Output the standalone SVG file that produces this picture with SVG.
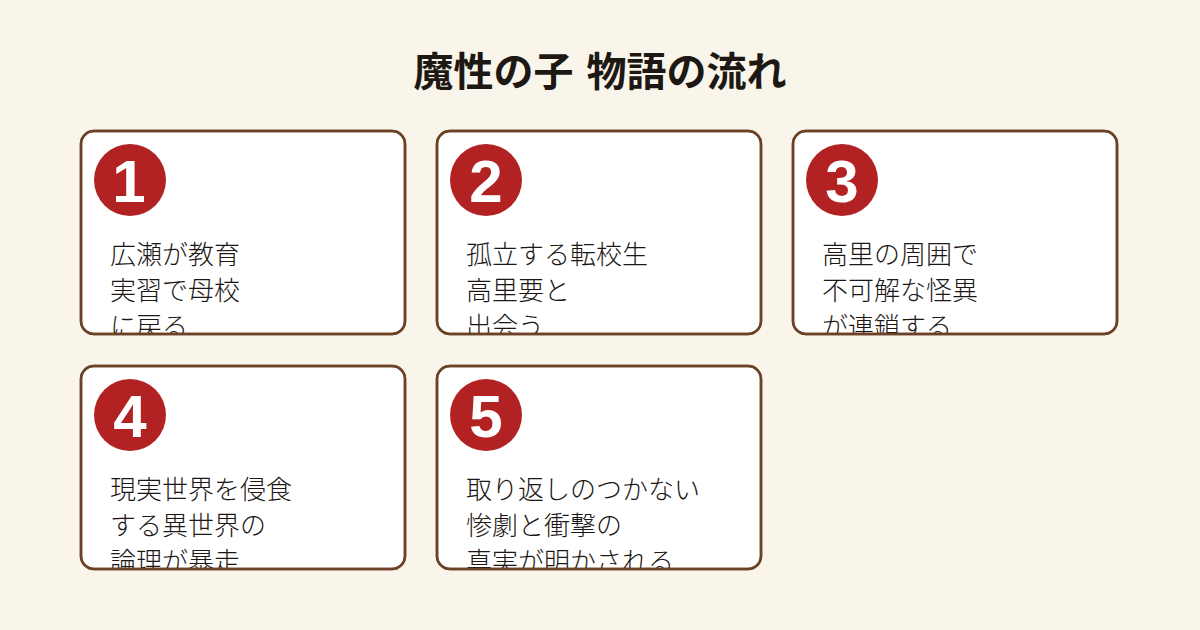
<svg xmlns="http://www.w3.org/2000/svg" width="1200" height="630" viewBox="0 0 1200 630">
<style>
.card{fill:#ffffff;stroke:#6b4226;stroke-width:2.5}
.frame{fill:none;stroke:#6b4226;stroke-width:2.5}
.badge{fill:#b22222}
.num{fill:#ffffff;font-family:"Liberation Sans",Arial,sans-serif;font-weight:700;font-size:60px;text-anchor:middle}
.txt{fill:#1c1714;font-family:"Noto Sans CJK JP","Noto Sans",sans-serif;font-weight:300;font-size:26px}
.title{fill:#1e1814;font-family:"Noto Sans CJK JP","Noto Sans",sans-serif;font-weight:700;font-size:40px;text-anchor:middle}
</style>
<defs>
<clipPath id="c1"><rect x="81" y="131" width="324" height="203" rx="13"/></clipPath>
<clipPath id="c2"><rect x="437" y="131" width="324" height="203" rx="13"/></clipPath>
<clipPath id="c3"><rect x="793" y="131" width="324" height="203" rx="13"/></clipPath>
<clipPath id="c4"><rect x="81" y="366" width="324" height="203" rx="13"/></clipPath>
<clipPath id="c5"><rect x="437" y="366" width="324" height="203" rx="13"/></clipPath>
</defs>
<rect width="1200" height="630" fill="#faf5ea"/>
<text class="title" x="600" y="86">魔性の子 <tspan dx="4">物語の流れ</tspan></text>
<g id="connectors"></g>
<g id="node1">
<rect class="card" x="81" y="131" width="324" height="203" rx="13"/>
<circle class="badge" cx="130" cy="180" r="36"/>
<text class="num" x="129" y="202">1</text>
<g clip-path="url(#c1)"><text class="txt"><tspan x="110" y="264">広瀬が教育</tspan><tspan x="110" y="300">実習で母校</tspan><tspan x="110" y="336">に戻る</tspan></text></g>
<rect class="frame" x="81" y="131" width="324" height="203" rx="13"/>
</g>
<g id="node2">
<rect class="card" x="437" y="131" width="324" height="203" rx="13"/>
<circle class="badge" cx="486" cy="180" r="36"/>
<text class="num" x="486" y="202">2</text>
<g clip-path="url(#c2)"><text class="txt"><tspan x="466" y="264">孤立する転校生</tspan><tspan x="466" y="300">高里要と</tspan><tspan x="466" y="336">出会う</tspan></text></g>
<rect class="frame" x="437" y="131" width="324" height="203" rx="13"/>
</g>
<g id="node3">
<rect class="card" x="793" y="131" width="324" height="203" rx="13"/>
<circle class="badge" cx="842" cy="180" r="36"/>
<text class="num" x="842" y="202">3</text>
<g clip-path="url(#c3)"><text class="txt"><tspan x="822" y="264">高里の周囲で</tspan><tspan x="822" y="300">不可解な怪異</tspan><tspan x="822" y="336">が連鎖する</tspan></text></g>
<rect class="frame" x="793" y="131" width="324" height="203" rx="13"/>
</g>
<g id="node4">
<rect class="card" x="81" y="366" width="324" height="203" rx="13"/>
<circle class="badge" cx="130" cy="415" r="36"/>
<text class="num" x="130" y="437">4</text>
<g clip-path="url(#c4)"><text class="txt"><tspan x="110" y="499">現実世界を侵食</tspan><tspan x="110" y="535">する異世界の</tspan><tspan x="110" y="571">論理が暴走</tspan></text></g>
<rect class="frame" x="81" y="366" width="324" height="203" rx="13"/>
</g>
<g id="node5">
<rect class="card" x="437" y="366" width="324" height="203" rx="13"/>
<circle class="badge" cx="486" cy="415" r="36"/>
<text class="num" x="486" y="437">5</text>
<g clip-path="url(#c5)"><text class="txt"><tspan x="466" y="499">取り返しのつかない</tspan><tspan x="466" y="535">惨劇と衝撃の</tspan><tspan x="466" y="571">真実が明かされる</tspan></text></g>
<rect class="frame" x="437" y="366" width="324" height="203" rx="13"/>
</g>
</svg>
